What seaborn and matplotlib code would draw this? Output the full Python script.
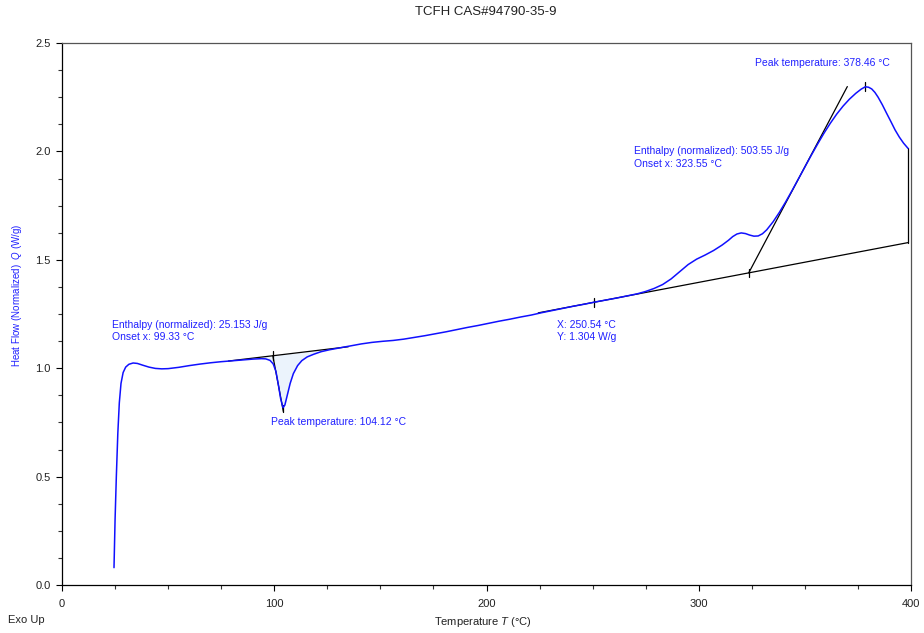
import matplotlib
matplotlib.use("Agg")
import matplotlib.pyplot as plt
import seaborn as sns
import numpy as np
import pandas as pd

# DSC scan of TCFH: temperature (°C) and normalized heat flow (W/g)
temperature = [
    24.5, 25.0, 25.6, 26.3, 27.0, 27.8, 28.8, 30.0, 31.5, 33.5, 35.5, 38.0,
    41.0, 44.0, 47.0, 50.0, 55.0, 60.0, 65.0, 70.0, 75.0, 80.0, 85.0, 90.0,
    94.0, 96.0, 98.0, 99.5, 100.8, 102.0, 103.0, 104.12, 105.0, 106.0, 107.5,
    109.0, 111.0, 113.0, 115.5, 118.5, 122.0, 126.0, 131.0, 136.0, 141.0,
    146.0, 151.0, 156.0, 161.0, 166.0, 171.0, 176.0, 181.0, 186.0, 191.0,
    196.0, 201.0, 206.0, 211.0, 216.0, 221.0, 226.0, 231.0, 236.0, 241.0,
    246.0, 251.0, 256.0, 261.0, 266.0, 271.0, 275.0, 279.0, 283.0, 287.0,
    291.0, 295.0, 299.0, 303.0, 307.0, 311.0, 314.0, 316.0, 318.0, 320.0,
    322.0, 324.0, 326.0, 328.0, 330.0, 332.0, 335.0, 338.0, 341.0, 344.0,
    347.0, 350.0, 353.0, 356.0, 359.0, 362.0, 365.0, 368.0, 371.0, 374.0,
    376.5, 378.46, 380.0, 381.5, 383.0, 384.5, 386.5, 388.5, 390.5, 392.5,
    394.5, 396.5, 398.6,
]
heat_flow = [
    0.08, 0.30, 0.50, 0.70, 0.84, 0.93, 0.98, 1.005, 1.018, 1.024, 1.022, 1.014,
    1.005, 0.999, 0.997, 0.998, 1.004, 1.012, 1.019, 1.025, 1.030, 1.034, 1.038, 1.042,
    1.044, 1.043, 1.036, 1.020, 0.985, 0.920, 0.860, 0.818, 0.830, 0.870, 0.930,
    0.975, 1.012, 1.035, 1.052, 1.064, 1.076, 1.085, 1.094, 1.103, 1.112,
    1.119, 1.124, 1.128, 1.134, 1.142, 1.150, 1.159, 1.168, 1.178, 1.188,
    1.197, 1.207, 1.217, 1.226, 1.236, 1.245, 1.256, 1.266, 1.276, 1.286,
    1.295, 1.305, 1.314, 1.323, 1.333, 1.343, 1.354, 1.368, 1.386, 1.412,
    1.445, 1.478, 1.503, 1.522, 1.543, 1.568, 1.590, 1.607, 1.619, 1.624,
    1.621, 1.614, 1.609, 1.610, 1.620, 1.638, 1.675, 1.719, 1.768, 1.820,
    1.874, 1.928, 1.982, 2.034, 2.084, 2.130, 2.172, 2.209, 2.241, 2.268,
    2.287, 2.298, 2.296, 2.288, 2.272, 2.250, 2.215, 2.176, 2.138, 2.099,
    2.066, 2.038, 2.014,
]

# First event (melting endotherm)
base1_T = [78.4, 134.9]
base1_Q = [1.033, 1.099]
onset_1 = 99.33
peak_1 = 104.12
enthalpy_1 = 25.153
tangent1_end = (104.3, 0.800)

# Point reading on the baseline
point_x = 250.54
point_y = 1.304

# Second event (decomposition exotherm)
base2_T = [224.4, 398.6]
base2_Q = [1.2553, 1.5793]
onset_2 = 323.55
peak_2 = 378.46
peak_2_Q = 2.298
enthalpy_2 = 503.55
tangent2_slope = 0.0185
tangent2_end_T = 370.0

sns.set_theme(style="ticks")
plt.rcParams["font.family"] = ["Liberation Sans", "DejaVu Sans"]
plt.rcParams["mathtext.fontset"] = "custom"
plt.rcParams["mathtext.rm"] = "Liberation Sans"
plt.rcParams["mathtext.it"] = "Liberation Sans:italic"

fig = plt.figure(figsize=(9.24, 6.33), dpi=100)
ax = fig.add_axes([62 / 924, 1 - 585 / 633, (911 - 62) / 924, (585 - 43) / 633])

df = pd.DataFrame({"T": temperature, "Q": heat_flow})
T = np.array(temperature)
Q = np.array(heat_flow)


def base_line(Tv, bt, bq):
    return bq[0] + (bq[1] - bq[0]) * (np.asarray(Tv) - bt[0]) / (bt[1] - bt[0])


# integrated area of the first peak
sel = (T >= 93) & (T <= 124)
bq = base_line(T[sel], base1_T, base1_Q)
ax.fill_between(T[sel], Q[sel], bq, where=Q[sel] <= bq + 0.002,
                color="#ebf3fc", lw=0, interpolate=True, zorder=1)

sns.lineplot(data=df, x="T", y="Q", sort=False, color="#1010ff", lw=1.1,
             ax=ax, zorder=3)

blk = dict(color="black", lw=0.9, zorder=2)
tick_h = 0.02

# first event construction
ax.plot(base1_T, base1_Q, **blk)
on1_Q = float(base_line(onset_1, base1_T, base1_Q))
ax.plot([onset_1, tangent1_end[0]], [on1_Q, tangent1_end[1]], **blk)
ax.plot([onset_1, onset_1], [on1_Q - tick_h, on1_Q + tick_h], **blk)
pk1_Q = float(np.interp(peak_1, T, Q))
ax.plot([peak_1, peak_1], [pk1_Q - tick_h, pk1_Q + 0.01], **blk)

# second event construction
ax.plot(base2_T, base2_Q, **blk)
ax.plot([base2_T[1], base2_T[1]], [base2_Q[1], Q[-1]], **blk)
on2_Q = float(base_line(onset_2, base2_T, base2_Q))
ax.plot([onset_2, tangent2_end_T],
        [on2_Q, on2_Q + tangent2_slope * (tangent2_end_T - onset_2)], **blk)
ax.plot([onset_2, onset_2], [on2_Q - tick_h, on2_Q + tick_h], **blk)
ax.plot([peak_2, peak_2], [peak_2_Q - tick_h, peak_2_Q + tick_h], **blk)
ax.plot([point_x, point_x], [point_y - tick_h, point_y + tick_h], **blk)

lab = dict(color="#2020ff", fontsize=7.5, ha="left", va="center",
           linespacing=1.3, zorder=4)
ax.text(23.4, 1.172, f"Enthalpy (normalized): {enthalpy_1} J/g\nOnset x: {onset_1} °C", **lab)
ax.text(98.5, 0.750, f"Peak temperature: {peak_1} °C", **lab)
ax.text(233.0, 1.172, f"X: {point_x} °C\nY: {point_y} W/g", **lab)
ax.text(269.5, 1.971, f"Enthalpy (normalized): {enthalpy_2} J/g\nOnset x: {onset_2} °C", **lab)
ax.text(326.5, 2.406, f"Peak temperature: {peak_2} °C", **lab)

ax.set_xlim(0, 400)
ax.set_ylim(0, 2.5)
ax.set_xticks([0, 100, 200, 300, 400])
ax.set_yticks([0.0, 0.5, 1.0, 1.5, 2.0, 2.5])
ax.set_yticklabels(["0.0", "0.5", "1.0", "1.5", "2.0", "2.5"])
ax.set_xticks(np.arange(0, 401, 25), minor=True)
ax.set_yticks(np.arange(0, 2.51, 0.125), minor=True)
ax.tick_params(axis="both", which="major", direction="out", length=4,
               width=0.8, labelsize=8, color="black", labelcolor="#222222")
ax.tick_params(axis="both", which="minor", direction="out", length=3,
               width=0.8, color="#333333")
ax.tick_params(axis="x", pad=6)
ax.tick_params(axis="y", pad=4)
for s in ["left", "bottom"]:
    ax.spines[s].set_color("black")
    ax.spines[s].set_linewidth(0.9)
for s in ["top", "right"]:
    ax.spines[s].set_visible(True)
    ax.spines[s].set_color("#555555")
    ax.spines[s].set_linewidth(0.9)

ax.set_xlabel("")
ax.set_ylabel("")
fig.text(483 / 924, 1 - 622 / 633, r"Temperature $T$ (°C)", fontsize=8,
         ha="center", va="center", color="#222222")
fig.text(17 / 924, 1 - 295 / 633, r"Heat Flow (Normalized)  $Q$ (W/g)",
         fontsize=7, rotation=90, ha="center", va="center", color="#2020ff")
fig.text(8 / 924, 1 - 620 / 633, "Exo Up", fontsize=8, ha="left",
         va="center", color="#222222")
fig.text(486 / 924, 1 - 12 / 633, "TCFH CAS#94790-35-9", fontsize=9.5,
         ha="center", va="center", color="#222222")

fig.savefig("out.png", dpi=100)
